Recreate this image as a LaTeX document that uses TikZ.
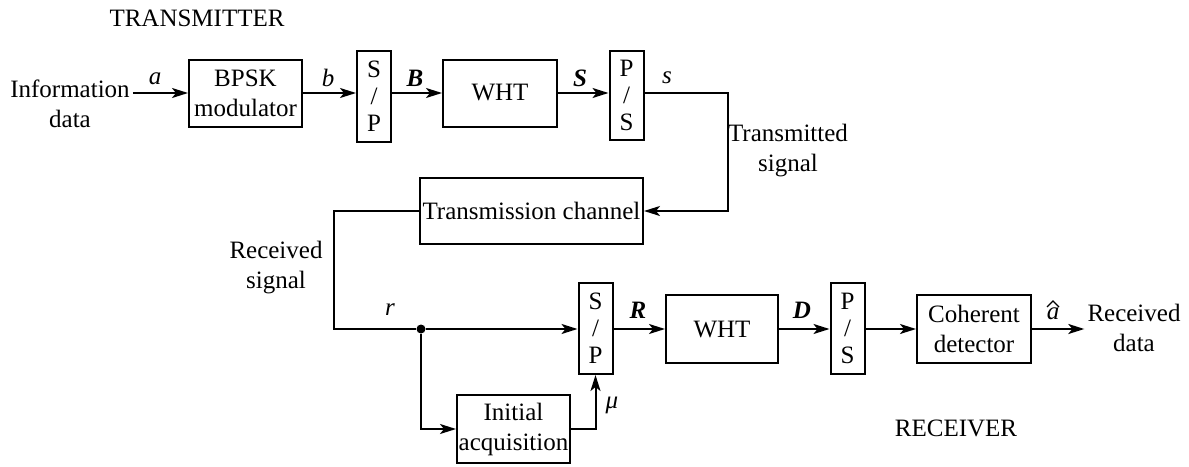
\documentclass[tikz,border=0pt]{standalone}
\usepackage{fontspec}
\setmainfont{Liberation Serif}
\usetikzlibrary{arrows.meta,calc}
\begin{document}
\begin{tikzpicture}[x=1pt,y=-1pt,
  every node/.style={font=\fontsize{25}{30}\selectfont, inner sep=3pt},
  blk/.style={draw, line width=2pt, inner sep=0pt, align=center},
  sp/.style={blk, minimum width=34pt, minimum height=91pt, font=\fontsize{25}{27}\selectfont},
  lbl/.style={align=center},
  wire/.style={line width=2pt},
  arr/.style={wire, -{Stealth[length=16pt,width=10pt,inset=4pt]}}]
\useasboundingbox (0,0) rectangle (1189,466);
% transmitter
\node (ttl) at (197,18) {TRANSMITTER};
\node[lbl] (info) at (70,104) {Information\\data};
\node[blk, minimum width=113pt, minimum height=67pt] (bpsk) at (245.5,93) {BPSK\\modulator};
\node[sp] (sp1) at (374,96.5) {S\\/\\P};
\node[blk, minimum width=114pt, minimum height=67pt] (wht1) at (500,93) {WHT};
\node[sp, minimum height=89pt] (ps1) at (626.5,95.5) {P\\/\\S};
\node[blk, minimum width=223pt, minimum height=66pt] (chan) at (531.5,211) {Transmission channel};
\node[lbl] (txs) at (788,151) {Transmitted\\signal};
\node (la) at (155,79) {\textit{a}};
\node (lb) at (328,78) {\textit{b}};
\node (lB) at (415,78) {\textbf{\textit{B}}};
\node (lS) at (580,78) {\textbf{\textit{S}}};
\node (ls) at (667,78) {\textit{s}};
\coordinate (tc) at (728,150);
\draw[arr] (info.east |- bpsk.west) -- (bpsk.west);
\draw[arr] (bpsk.east) -- (sp1.west |- bpsk.east);
\draw[arr] (sp1.east |- wht1.west) -- (wht1.west);
\draw[arr] (wht1.east) -- (ps1.west |- wht1.east);
\draw[arr] (ps1.east |- wht1.east) -| (tc) |- (chan.east);
% receiver
\node[lbl] (rxs) at (276,268) {Received\\signal};
\coordinate (rc) at (334,270);
\node[circle, fill, inner sep=0pt, minimum size=9pt] (dot) at (421,329) {};
\node[sp] (sp2) at (595.5,328.5) {S\\/\\P};
\node[blk, minimum width=112pt, minimum height=68pt] (wht2) at (722,329) {WHT};
\node[sp] (ps2) at (847.5,328.5) {P\\/\\S};
\node[blk, minimum width=114pt, minimum height=68pt] (coh) at (974,329) {Coherent\\detector};
\node[blk, minimum width=113pt, minimum height=68pt] (init) at (513.5,429) {Initial\\acquisition};
\node[lbl] (rd) at (1134,328) {Received\\data};
\node (lr) at (390,310) {\textit{r}};
\node (lR) at (638,310) {\textbf{\textit{R}}};
\node (lD) at (802,310) {\textbf{\textit{D}}};
\node (lmu) at (612,405) {\textit{μ}};
\node (ahat) at (1053,314) {\textit{a}};
\draw[line width=1.3pt] ($(ahat.center)+(-6,-7)$) -- ($(ahat.center)+(0,-13)$) -- ($(ahat.center)+(6,-7)$);
\node (rttl) at (956,428) {RECEIVER};
\draw[wire] (chan.west) -| (rc) |- (dot);
\draw[arr] (dot) -- (sp2.west |- dot);
\draw[arr] (dot) |- (init.west);
\draw[arr] (init.east) -| (sp2.south);
\draw[arr] (sp2.east |- wht2.west) -- (wht2.west);
\draw[arr] (wht2.east) -- (ps2.west |- wht2.east);
\draw[arr] (ps2.east |- coh.west) -- (coh.west);
\draw[arr] (coh.east) -- (rd.west |- coh.east);
\end{tikzpicture}
\end{document}
